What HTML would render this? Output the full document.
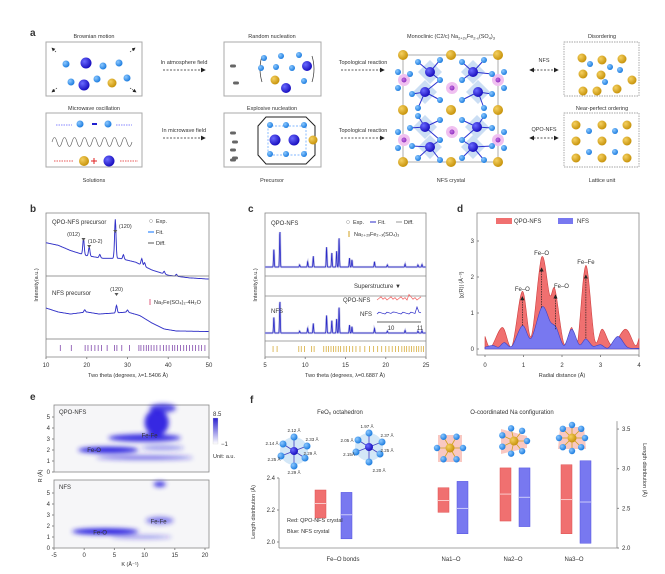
<!DOCTYPE html>
<html><head><meta charset="utf-8"><style>
html,body{margin:0;padding:0;background:#fff;}
svg{display:block;font-family:"Liberation Sans",sans-serif;}
text{fill:#333;}
</style></head><body>
<svg id="fig" width="665" height="574" viewBox="0 0 665 574" xmlns="http://www.w3.org/2000/svg">
<defs>
<radialGradient id="gL" cx="35%" cy="35%" r="65%"><stop offset="0" stop-color="#8cc8ff"/><stop offset="1" stop-color="#1f7ee0"/></radialGradient>
<radialGradient id="gD" cx="35%" cy="35%" r="65%"><stop offset="0" stop-color="#6a6aff"/><stop offset="1" stop-color="#1a10c0"/></radialGradient>
<radialGradient id="gY" cx="35%" cy="35%" r="65%"><stop offset="0" stop-color="#f5d060"/><stop offset="1" stop-color="#c8940c"/></radialGradient>
<radialGradient id="gP" cx="40%" cy="40%" r="60%"><stop offset="0" stop-color="#c070e0"/><stop offset="1" stop-color="#9030c0"/></radialGradient>
<filter id="blur" x="-50%" y="-50%" width="200%" height="200%"><feGaussianBlur stdDeviation="2.5"/></filter>
<marker id="ah" markerWidth="6" markerHeight="6" refX="5" refY="3" orient="auto"><path d="M0,0 L6,3 L0,6 z" fill="#222"/></marker>
<marker id="ahb" markerWidth="6" markerHeight="6" refX="1" refY="3" orient="auto"><path d="M6,0 L0,3 L6,6 z" fill="#222"/></marker>
<linearGradient id="cbar" x1="0" y1="0" x2="0" y2="1"><stop offset="0" stop-color="#2a20d0"/><stop offset="1" stop-color="#ffffff"/></linearGradient>
</defs>
<g id="panelA" font-size="5.5" text-anchor="middle">
<text x="30" y="36" font-size="10" font-weight="bold" fill="#111" text-anchor="start">a</text>
<text x="94" y="38">Brownian motion</text>
<rect x="46" y="42" width="96" height="54" fill="#fff" stroke="#aaa"/>
<text x="94" y="110">Microwave oscillation</text>
<rect x="46" y="113" width="96" height="54" fill="#fff" stroke="#aaa"/>
<text x="94" y="182">Solutions</text>
<text x="272" y="38">Random nucleation</text>
<rect x="224" y="42" width="97" height="54" fill="#fff" stroke="#aaa"/>
<text x="272" y="110">Explosive nucleation</text>
<rect x="224" y="113" width="97" height="54" fill="#fff" stroke="#aaa"/>
<polygon points="266,117 306,117 315,126 315,155 306,164 266,164 258,155 258,126" fill="none" stroke="#222" stroke-width="1"/>
<rect x="268" y="126" width="38" height="29" fill="none" stroke="#5aa0ff" stroke-dasharray="2,1.5" stroke-width="0.7"/>
<text x="272" y="182">Precursor</text>
<text x="184" y="64">In atmosphere field</text>
<line x1="163" y1="70" x2="205" y2="70" stroke="#222" stroke-width="0.8" stroke-dasharray="2,1.5" marker-end="url(#ah)"/>
<text x="184" y="132">In microwave field</text>
<line x1="163" y1="138" x2="205" y2="138" stroke="#222" stroke-width="0.8" stroke-dasharray="2,1.5" marker-end="url(#ah)"/>
<text x="363" y="64">Topological reaction</text>
<line x1="341" y1="70" x2="384" y2="70" stroke="#222" stroke-width="0.8" stroke-dasharray="2,1.5" marker-end="url(#ah)"/>
<text x="363" y="132">Topological reaction</text>
<line x1="341" y1="138" x2="384" y2="138" stroke="#222" stroke-width="0.8" stroke-dasharray="2,1.5" marker-end="url(#ah)"/>
<text x="451" y="38">Monoclinic (C2/c) Na<tspan font-size="4" dy="1.5">2+2x</tspan><tspan dy="-1.5">Fe</tspan><tspan font-size="4" dy="1.5">2-x</tspan><tspan dy="-1.5">(SO</tspan><tspan font-size="4" dy="1.5">4</tspan><tspan dy="-1.5">)</tspan><tspan font-size="4" dy="1.5">3</tspan></text>
<rect x="403" y="55" width="95" height="107" fill="none" stroke="#999" stroke-width="0.8"/>
<g id="crystal"></g>
<text x="451" y="182">NFS crystal</text>
<text x="544" y="62">NFS</text>
<line x1="530" y1="70" x2="558" y2="70" stroke="#222" stroke-width="0.8" stroke-dasharray="2,1.5" marker-end="url(#ah)" marker-start="url(#ahb)"/>
<text x="544" y="131">QPO-NFS</text>
<line x1="530" y1="138" x2="558" y2="138" stroke="#222" stroke-width="0.8" stroke-dasharray="2,1.5" marker-end="url(#ah)" marker-start="url(#ahb)"/>
<text x="602" y="38">Disordering</text>
<rect x="564" y="42" width="75" height="54" fill="none" stroke="#888" stroke-dasharray="1.5,1" stroke-width="0.7"/>
<text x="602" y="110">Near-perfect ordering</text>
<rect x="564" y="113" width="75" height="54" fill="none" stroke="#888" stroke-dasharray="1.5,1" stroke-width="0.7"/>
<text x="602" y="182">Lattice unit</text>
<g id="spheres"></g>
</g>
<g id="panelB"></g>
<g id="panelC"></g>
<g id="panelD"></g>
<g id="panelE"></g>
<g id="panelF"></g>
</svg>
<script>
// ---------- data ----------
const bQpoBase=[[10,0.62],[13,0.58],[16,0.5],[20,0.42],[24,0.38],[28,0.38],[32,0.32],[36,0.2],[40,0.12],[45,0.08],[50,0.06]];
const bQpoPeaks=[[19.2,0.25],[20.6,0.14],[23.2,0.05],[27.0,0.6],[29,0.07],[33.5,0.1],[34.2,0.06],[39,0.04],[42,0.03]];
const bNfsBase=[[10,0.5],[13,0.42],[16,0.38],[20,0.42],[23,0.38],[27,0.4],[30,0.42],[33,0.35],[36,0.2],[39,0.08],[42,0.04],[50,0.03]];
const bNfsPeaks=[[19.5,0.05],[27.3,0.15],[30,0.04]];
const bTicks=[13.5,16.2,19.6,20.3,21.1,22,22.8,23.6,25,26.8,27.4,28.6,30.5,32.8,33.3,34,34.6,35.2,35.8,36.5,37.2,38,38.8,39.5,40.2,41,41.6,42.3,43,43.8,44.5,45.2,46,46.7,47.5,48.2,49];
const cPeaks=[[6.1,0.5],[6.85,1.0],[9.3,0.06],[10.3,0.15],[11.0,0.3],[12.65,0.55],[13.3,0.4],[13.9,0.45],[14.2,0.82],[15.5,0.25],[15.8,0.2],[18.6,0.15],[20.2,0.06],[22.4,0.08],[24,0.06],[24.5,0.07]];
const cTicks=[6,6.5,9.2,9.5,9.9,10.8,11.1,12.3,12.6,12.9,13.2,13.5,13.8,14.1,14.4,14.8,15.1,15.5,15.9,16.3,16.8,17.4,18,18.5,19,19.5,20,20.4,20.8,21.2,21.6,22,22.3,22.6,22.9,23.2,23.5,23.8,24.1,24.4,24.7];
const dQpo=[[0,0.35],[0.15,0.05],[0.45,0.6],[0.7,0.08],[0.97,1.6],[1.2,0.35],[1.47,2.55],[1.68,1.5],[1.82,1.65],[2.05,0.15],[2.25,0.6],[2.4,0.15],[2.62,2.32],[2.85,0.25],[3.05,0.55],[3.3,0.1],[3.65,0.55],[3.9,0.1],[4.0,0.3]];
const dNfs=[[0,0.05],[0.2,0.1],[0.35,0.05],[0.5,0.18],[0.7,0.08],[0.97,0.65],[1.2,0.3],[1.48,1.17],[1.7,0.75],[1.85,0.6],[2.05,0.1],[2.25,0.55],[2.45,0.12],[2.62,0.28],[2.8,0.08],[3.0,0.12],[3.2,0.03],[3.45,0.35],[3.7,0.05],[4.0,0.02]];
const eQpoBlobs=[[4,2.0,5,0.3,1],[10,1.3,8,0.2,0.6],[13,2.2,3.5,0.25,0.4],[10,3.1,6,0.35,0.9],[12,4.5,2,1.2,0.95],[13,5.8,2.2,0.4,0.8]];
const eNfsBlobs=[[3.5,1.5,5.5,0.3,1],[9.5,1.0,5,0.15,0.5],[12.5,2.5,2.3,0.35,0.55],[12.5,5.8,1,0.25,0.9]];
const fCats=["Fe–O bonds","Na1–O","Na2–O","Na3–O"];
const fRedTop=[2.325,2.76,3.01,3.05];
const fRedBot=[2.15,2.45,2.34,2.18];
const fRedMid=[2.24,2.6,2.68,2.61];
const fBlueTop=[2.31,2.84,3.01,3.10];
const fBlueBot=[2.02,2.18,2.27,2.06];
const fBlueMid=[2.17,2.5,2.64,2.58];

const NS="http://www.w3.org/2000/svg";
function mk(parent,tag,attrs,txt){const e=document.createElementNS(NS,tag);for(const k in attrs)e.setAttribute(k,attrs[k]);if(txt!==undefined)e.textContent=txt;parent.appendChild(e);return e;}
function txt(p,x,y,s,size,anchor,name,extra){const t=mk(p,'text',Object.assign({x:x,y:y,'font-size':size||6,'text-anchor':anchor||'start'},extra||{}),s);


return t;}
function lin(pts,x){for(let i=0;i<pts.length-1;i++){if(x>=pts[i][0]&&x<=pts[i+1][0]){const t=(x-pts[i][0])/(pts[i+1][0]-pts[i][0]);return pts[i][1]+t*(pts[i+1][1]-pts[i][1]);}}return pts[pts.length-1][1];}
function pattern(base,peaks,w,x){let v=base?lin(base,x):0;for(const p of peaks)v+=p[1]*Math.exp(-Math.pow((x-p[0])/w,2));return v;}
function smoothPath(pts){let d='M'+pts[0][0]+','+pts[0][1];for(let i=0;i<pts.length-1;i++){const p0=pts[Math.max(0,i-1)],p1=pts[i],p2=pts[i+1],p3=pts[Math.min(pts.length-1,i+2)];
const c1x=p1[0]+(p2[0]-p0[0])/6,c1y=p1[1]+(p2[1]-p0[1])/6,c2x=p2[0]-(p3[0]-p1[0])/6,c2y=p2[1]-(p3[1]-p1[1])/6;d+=` C${c1x},${c1y} ${c2x},${c2y} ${p2[0]},${p2[1]}`;}return d;}

// ---------- panel a spheres ----------
(function(){
const g=document.getElementById('spheres');
const L='url(#gL)',D='url(#gD)',Y='url(#gY)',P='url(#gP)';
const sp=[[66,64,3.5,L],[86,63,5.5,D],[103,66,3.5,L],[119,63,3.5,L],[71,82,3.5,L],[84,85,5.5,D],[97,79,3.5,L],[112,83,4.5,Y],[127,78,3.5,L],
[80,124,3.5,L],[108,124,3.5,L],[84,161,5,Y],[109,161,5.5,D],
[264,58,3,L],[281,56,3,L],[299,55,3,L],[261,68,3,L],[276,67,3,L],[292,68,3,L],[307,66,5,D],[275,80,4.5,Y],[304,81,3,L],[286,88,5,D],
[270,125,3,L],[286,125,3,L],[304,125,3,L],[275,140,5.5,D],[294,140,5.5,D],[313,140,4.5,Y],[270,154,3,L],[286,154,3,L],[304,154,3,L],
[582,58,4.5,Y],[602,60,4.5,Y],[622,59,4.5,Y],[583,74,4.5,Y],[601,75,4.5,Y],[632,80,4.5,Y],[583,91,4.5,Y],[597,91,4.5,Y],[617,89,4.5,Y],[590,64,3,L],[610,67,3,L],[605,82,3,L],[620,70,3,L],
[576,125,4.5,Y],[602,125,4.5,Y],[627,125,4.5,Y],[576,141,4.5,Y],[602,141,4.5,Y],[627,141,4.5,Y],[576,158,4.5,Y],[602,158,4.5,Y],[627,158,4.5,Y],[589,131,3,L],[615,131,3,L],[589,152,3,L],[615,152,3,L]];
[[233,66],[236,83],[233,133],[235,142],[233,150],[235,158],[233,160]].forEach(p=>mk(g,'rect',{x:p[0]-3,y:p[1]-1.5,width:6,height:3,rx:1.5,fill:'#666'}));
mk(g,'path',{d:'M56,125 L72,125 M116,125 L132,125',stroke:'#6060ff','stroke-width':0.8,'stroke-dasharray':'1.5,1'});
mk(g,'rect',{x:92,y:123,width:5,height:2,fill:'#2020d0'});
mk(g,'path',{d:'M54,161 L73,161 M120,161 L138,161',stroke:'#e02020','stroke-width':0.8,'stroke-dasharray':'1.5,1'});
mk(g,'path',{d:'M94,158 v6 M91,161 h6',stroke:'#e02020','stroke-width':1});
let w='M52,142';for(let i=0;i<16;i++){w+=` q2.5,${i%2?9:-9} 5,0`;}mk(g,'path',{d:w,fill:'none',stroke:'#555','stroke-width':0.6});
mk(g,'path',{d:'M262,56 q-4,13 0,26 M312,56 q4,13 0,26',fill:'none',stroke:'#333','stroke-width':0.7});
[[52,48,56,52],[135,48,130,52],[52,92,57,88],[136,92,130,88]].forEach(a=>mk(g,'line',{x1:a[2],y1:a[3],x2:a[0],y2:a[1],stroke:'#222','stroke-width':0.6,'stroke-dasharray':'1.5,1','marker-end':'url(#ah)'}));
sp.forEach(s=>mk(g,'circle',{cx:s[0],cy:s[1],r:s[2],fill:s[3]}));
const c=document.getElementById('crystal');
const oct=[[430,72],[473,72],[425,92],[478,92],[425,127],[477,127],[430,147],[473,147]];
oct.forEach(o=>mk(c,'polygon',{points:`${o[0]-12},${o[1]} ${o[0]},${o[1]-12} ${o[0]+12},${o[1]} ${o[0]},${o[1]+12}`,fill:'#a8c8ec','fill-opacity':0.6}));
[[404,80],[452,88],[498,80],[404,140],[452,132],[498,140]].forEach(p=>{mk(c,'circle',{cx:p[0],cy:p[1],r:6,fill:'#f0c0f0'});mk(c,'circle',{cx:p[0],cy:p[1],r:2.5,fill:P});});
const ox=[[398,72],[410,74],[398,88],[412,94],[418,62],[440,60],[462,62],[484,60],[492,74],[504,72],[504,88],[492,94],[440,80],[462,80],[440,100],[462,100],[418,108],[484,108],[418,116],[484,116],[440,120],[462,120],[440,140],[462,140],[398,132],[410,128],[398,148],[412,146],[418,158],[440,160],[462,158],[484,160],[492,128],[504,132],[504,148],[492,146]];
oct.forEach(o=>ox.forEach(p=>{if(Math.hypot(p[0]-o[0],p[1]-o[1])<20)mk(c,'line',{x1:o[0],y1:o[1],x2:p[0],y2:p[1],stroke:'#2a30d0','stroke-width':1});}));
ox.forEach(p=>mk(c,'circle',{cx:p[0],cy:p[1],r:3,fill:L}));
oct.forEach(o=>mk(c,'circle',{cx:o[0],cy:o[1],r:5,fill:D}));
[[403,55],[451,55],[498,55],[403,110],[451,110],[498,110],[403,162],[451,162],[498,162]].forEach(p=>mk(c,'circle',{cx:p[0],cy:p[1],r:5,fill:Y}));
})();

// ---------- panel b ----------
(function(){
const g=document.getElementById('panelB');
const X0=46,X1=209,Y0=213,Y1=357;
const xs=v=>X0+(v-10)/(50-10)*(X1-X0);
txt(g,30,212,'b',10,'start','panel-b-label',{'font-weight':'bold',fill:'#111'});
mk(g,'rect',{x:X0,y:Y0,width:X1-X0,height:Y1-Y0,fill:'none',stroke:'#888','stroke-width':0.8});
function curve(base,peaks,yb,scale,color,name){const pts=[];for(let x=10;x<=50;x+=0.1)pts.push([xs(x),yb-scale*pattern(base,peaks,0.25,x)]);
const p=mk(g,'path',{d:'M'+pts.map(q=>q[0].toFixed(1)+','+q[1].toFixed(1)).join(' L'),fill:'none',stroke:color,'stroke-width':0.9});

}
curve(bQpoBase,bQpoPeaks,283,65,'#c8c8e8','qpo-precursor-exp');
curve(bQpoBase,bQpoPeaks,283,65,'#3030c8','qpo-precursor-fit');
mk(g,'line',{x1:X0,x2:X1,y1:276,y2:276,stroke:'#777','stroke-width':0.8});
curve(bNfsBase,bNfsPeaks,333,50,'#c8c8e8','nfs-precursor-exp');
curve(bNfsBase,bNfsPeaks,333,50,'#3030c8','nfs-precursor-fit');
mk(g,'line',{x1:X0,x2:X1,y1:339,y2:339,stroke:'#777','stroke-width':0.8});
bTicks.forEach(t=>{const l=mk(g,'line',{x1:xs(t),x2:xs(t),y1:345,y2:351,stroke:'#7030a0','stroke-width':0.7});

});
[10,20,30,40,50].forEach(v=>{mk(g,'line',{x1:xs(v),x2:xs(v),y1:Y1,y2:Y1+2,stroke:'#888'});txt(g,xs(v),367,String(v),6,'middle','b-x-tick');});
txt(g,128,377,'Two theta (degrees, λ=1.5406 Å)',5.5,'middle','b-x-axis-title');
txt(g,38,285,'Intensity(a.u.)',5.5,'middle','b-y-axis-title',{transform:'rotate(-90 38 285)'});
txt(g,52,224,'QPO-NFS precursor',6,'start','b-qpo-label');
txt(g,52,295,'NFS precursor',6,'start','b-nfs-label');
mk(g,'circle',{cx:151,cy:221,r:1.5,fill:'none',stroke:'#999','stroke-width':0.5});txt(g,156,223,'Exp.',5.5,'start','b-legend-exp');
mk(g,'line',{x1:148,x2:154,y1:232,y2:232,stroke:'#5aa0ff','stroke-width':1.5});txt(g,156,234,'Fit.',5.5,'start','b-legend-fit');
mk(g,'line',{x1:148,x2:154,y1:243,y2:243,stroke:'#555','stroke-width':1});txt(g,156,245,'Diff.',5.5,'start','b-legend-diff');
mk(g,'line',{x1:150,x2:150,y1:299,y2:305,stroke:'#e06080','stroke-width':1});txt(g,154,304,'Na₂Fe(SO₄)₂·4H₂O',5.5,'start','b-legend-ref');
[[xs(19.2),241,'(012)',-10],[xs(20.6),248,'(10-2)',6],[xs(27),233,'(120)',10],[xs(27.3),296,'(120)',0]].forEach(a=>{mk(g,'path',{d:`M${a[0]-2},${a[1]-3} h4 l-2,3 z`,fill:'#555'});txt(g,a[0]+a[3],a[1]-5,a[2],5.5,'middle','peak-label');});
})();

// ---------- panel c ----------
(function(){
const g=document.getElementById('panelC');
const X0=265,X1=426,Y0=213,Y1=357;
const xs=v=>X0+(v-5)/(25-5)*(X1-X0);
txt(g,248,212,'c',10,'start','panel-c-label',{'font-weight':'bold',fill:'#111'});
mk(g,'rect',{x:X0,y:Y0,width:X1-X0,height:Y1-Y0,fill:'none',stroke:'#888','stroke-width':0.8});
mk(g,'line',{x1:X0,x2:X1,y1:296,y2:296,stroke:'#888','stroke-width':0.8});
function curve(yb,scale,name){const pts=[];for(let x=5;x<=25;x+=0.03)pts.push([xs(x),yb-scale*pattern(null,cPeaks,0.06,x)]);
mk(g,'path',{d:'M'+pts.map(q=>q[0].toFixed(1)+','+q[1].toFixed(1)).join(' L'),fill:'none',stroke:'#c8c8e8','stroke-width':2.2});
const p=mk(g,'path',{d:'M'+pts.map(q=>q[0].toFixed(1)+','+q[1].toFixed(1)).join(' L'),fill:'none',stroke:'#2a2ac8','stroke-width':0.8});

}
curve(267,36,'qpo-nfs-fit');
mk(g,'line',{x1:X0,x2:X1,y1:276,y2:276,stroke:'#888','stroke-width':0.8});
curve(333,32,'nfs-fit');
mk(g,'line',{x1:X0,x2:X1,y1:341,y2:341,stroke:'#888','stroke-width':0.8});
cTicks.forEach(t=>{const l=mk(g,'line',{x1:xs(t),x2:xs(t),y1:346,y2:352,stroke:'#d0a020','stroke-width':0.7});

});
[5,10,15,20,25].forEach(v=>{mk(g,'line',{x1:xs(v),x2:xs(v),y1:Y1,y2:Y1+2,stroke:'#888'});txt(g,xs(v),367,String(v),6,'middle','c-x-tick');});
txt(g,345,377,'Two theta (degrees, λ=0.6887 Å)',5.5,'middle','c-x-axis-title');
txt(g,257,285,'Intensity(a.u.)',5.5,'middle','c-y-axis-title',{transform:'rotate(-90 257 285)'});
txt(g,271,225,'QPO-NFS',6,'start','c-qpo-label');txt(g,271,313,'NFS',6,'start','c-nfs-label');
mk(g,'circle',{cx:348,cy:222,r:1.5,fill:'none',stroke:'#999','stroke-width':0.5});txt(g,353,224,'Exp.',5.5,'start','c-legend-exp');
mk(g,'line',{x1:370,x2:376,y1:222,y2:222,stroke:'#2a2ac8','stroke-width':1});txt(g,378,224,'Fit.',5.5,'start','c-legend-fit');
mk(g,'line',{x1:396,x2:402,y1:222,y2:222,stroke:'#999','stroke-width':1});txt(g,404,224,'Diff.',5.5,'start','c-legend-diff');
mk(g,'line',{x1:349,x2:349,y1:231,y2:237,stroke:'#d0a020','stroke-width':1});txt(g,354,236,'Na₂₊₂ₓFe₂₋ₓ(SO₄)₃',5.5,'start','c-legend-ref');
txt(g,354,288,'Superstructure ▼',6,'start','superstructure-label');
txt(g,343,302,'QPO-NFS',6,'start','inset-qpo-label');txt(g,360,316,'NFS',6,'start','inset-nfs-label');
let r='M377,300',b='M377,314';for(let i=1;i<=22;i++){const x=377+i*2;r+=` L${x},${300-((i*7)%5)*0.8-(i==16?4:0)}`;b+=` L${x},${314-((i*3)%4)*0.6-(i==20?7:0)-(i==8?2:0)}`;}
mk(g,'path',{d:r,fill:'none',stroke:'#f06060','stroke-width':0.7});mk(g,'path',{d:b,fill:'none',stroke:'#2a2ac8','stroke-width':0.7});
mk(g,'line',{x1:377,x2:421,y1:322,y2:322,stroke:'#999','stroke-width':1.5});
txt(g,391,330,'10',6,'middle','inset-tick');txt(g,420,330,'11',6,'middle','inset-tick');
})();

// ---------- panel d ----------
(function(){
const g=document.getElementById('panelD');
const X0=485,X1=639,Y0=213,Y1=355;
const xs=v=>X0+v/4*(X1-X0), ys=v=>349-v*36;
txt(g,457,212,'d',10,'start','panel-d-label',{'font-weight':'bold',fill:'#111'});
mk(g,'rect',{x:477,y:Y0,width:X1-477,height:Y1-Y0,fill:'none',stroke:'#888','stroke-width':0.8});
function area(data,fill,stroke,name){const pts=data.map(p=>[xs(p[0]),ys(p[1])]);
const p=mk(g,'path',{d:smoothPath(pts)+` L${xs(4)},${ys(0)} L${xs(0)},${ys(0)} Z`,fill:fill,stroke:stroke,'stroke-width':0.6});

}
area(dQpo,'#f07070','#d04040','qpo-nfs-area');
area(dNfs,'#7878f0','#4040c0','nfs-area');
[0,1,2,3].forEach(v=>{mk(g,'line',{x1:477,x2:479,y1:ys(v),y2:ys(v),stroke:'#888'});txt(g,474,ys(v)+2,String(v),6,'end','d-y-tick');});
[0,1,2,3,4].forEach(v=>{mk(g,'line',{x1:xs(v),x2:xs(v),y1:Y1,y2:Y1+2,stroke:'#888'});txt(g,xs(v),367,String(v),6,'middle','d-x-tick');});
txt(g,562,377,'Radial distance (Å)',5.5,'middle','d-x-axis-title');
txt(g,463,285,'|χ(R)| (Å⁻³)',5.5,'middle','d-y-axis-title',{transform:'rotate(-90 463 285)'});
mk(g,'rect',{x:496,y:218,width:16,height:6,fill:'#f07070'});txt(g,514,223,'QPO-NFS',6,'start','d-legend-qpo');
mk(g,'rect',{x:558,y:218,width:15,height:6,fill:'#7878f0'});txt(g,577,223,'NFS',6,'start','d-legend-nfs');
[[0.97,0.65,1.45,'Fe–O',0,291],[1.47,1.15,2.25,'Fe–O',0,255],[1.83,0.55,1.5,'Fe–O',6,288],[2.62,0.3,2.05,'Fe–Fe',0,264]].forEach(a=>{mk(g,'line',{x1:xs(a[0]),x2:xs(a[0]),y1:ys(a[1]),y2:ys(a[2]),stroke:'#222','stroke-width':0.7,'stroke-dasharray':'1.5,1','marker-end':'url(#ah)'});
txt(g,xs(a[0])+a[4],a[5],a[3],6,'middle','d-peak-label');});
})();

// ---------- panel e ----------
(function(){
const g=document.getElementById('panelE');
txt(g,30,400,'e',10,'start','panel-e-label',{'font-weight':'bold',fill:'#111'});
const X0=54,X1=205;const xs=v=>X0+(v+5)/25*(X1-X0);
function plot(top,bottom,blobs,label,name){const ys=v=>bottom-v*11;
mk(g,'rect',{x:X0,y:top,width:X1-X0+4,height:bottom-top,fill:'#f6f6f8',stroke:'#888','stroke-width':0.8});
const gg=mk(g,'g',{filter:'url(#blur)'});


blobs.forEach(b=>{const e=mk(gg,'ellipse',{cx:xs(b[0]),cy:ys(b[1]),rx:(b[2])*6.04,ry:b[3]*11,fill:'#2a20e0','fill-opacity':b[4]});

});
[0,1,2,3,4,5].forEach(v=>{mk(g,'line',{x1:X0-2,x2:X0,y1:ys(v),y2:ys(v),stroke:'#888'});txt(g,X0-4,ys(v)+2,String(v),6,'end','e-y-tick');});
txt(g,X0+5,top+9,label,6,'start','e-plot-label');return ys;}
const ysA=plot(405,472,eQpoBlobs,'QPO-NFS','qpo-nfs-heatmap');
const ysB=plot(480,548,eNfsBlobs,'NFS','nfs-heatmap');
txt(g,xs(0.5),ysA(2)+2,'Fe-O',6,'start','e-label',{fill:'#fff'});txt(g,xs(9.5),ysA(3.3)+2,'Fe-Fe',6,'start','e-label',{fill:'#fff'});
txt(g,xs(1.5),ysB(1.4)+2,'Fe-O',6,'start','e-label',{fill:'#fff'});txt(g,xs(11),ysB(2.4)+2,'Fe-Fe',6,'start','e-label',{fill:'#fff'});
[-5,0,5,10,15,20].forEach(v=>{mk(g,'line',{x1:xs(v),x2:xs(v),y1:548,y2:550,stroke:'#888'});txt(g,xs(v),557,String(v),6,'middle','e-x-tick');});
txt(g,130,566,'K (Å⁻¹)',5.5,'middle','e-x-axis-title');
txt(g,42,476,'R (Å)',5.5,'middle','e-y-axis-title',{transform:'rotate(-90 42 476)'});
mk(g,'rect',{x:213,y:418,width:5,height:26,fill:'url(#cbar)',stroke:'#ccc','stroke-width':0.3});
txt(g,213,416,'8.5',6,'start','colorbar-max');txt(g,221,446,'−1',6,'start','colorbar-min');txt(g,213,458,'Unit: a.u.',5.5,'start','colorbar-unit');
})();

// ---------- panel f ----------
(function(){
const g=document.getElementById('panelF');
txt(g,250,403,'f',10,'start','panel-f-label',{'font-weight':'bold',fill:'#111'});
const XL=279,XR=617;
const yl=v=>542-(v-2.0)*160, yr=v=>548-(v-2.0)*79.3;
const xcat=[343,451,513,574];
const off=[-22,-7,-7,-7],offB=[26,19,19,19];
mk(g,'line',{x1:XL,x2:XL,y1:yl(2.4),y2:548,stroke:'#888','stroke-width':0.8});
mk(g,'line',{x1:XL,x2:XR,y1:548,y2:548,stroke:'#888','stroke-width':0.8});
mk(g,'line',{x1:XR,x2:XR,y1:yr(3.6),y2:548,stroke:'#888','stroke-width':0.8});
[2.0,2.2,2.4].forEach(v=>{mk(g,'line',{x1:XL-2,x2:XL,y1:yl(v),y2:yl(v),stroke:'#888'});txt(g,XL-4,yl(v)+2,v.toFixed(1),6,'end','f-left-tick');});
[2.0,2.5,3.0,3.5].forEach(v=>{mk(g,'line',{x1:XR,x2:XR+2,y1:yr(v),y2:yr(v),stroke:'#888'});txt(g,XR+5,yr(v)+2,v.toFixed(1),6,'start','f-right-tick');});
txt(g,255,512,'Length distribution (Å)',5.5,'middle','f-left-axis-title',{transform:'rotate(-90 255 512)'});
txt(g,643,470,'Length distribution (Å)',5.5,'middle','f-right-axis-title',{transform:'rotate(90 643 470)'});
fCats.forEach((c,i)=>{const y=i==0?yl:yr;const xr=xcat[i]+off[i]-6,xb=xcat[i]+off[i]-6+offB[i];
let r=mk(g,'rect',{x:xr,y:y(fRedTop[i]),width:11,height:y(fRedBot[i])-y(fRedTop[i]),fill:'#f07070',stroke:'#e05050','stroke-width':0.5});


mk(g,'line',{x1:xr,x2:xr+11,y1:y(fRedMid[i]),y2:y(fRedMid[i]),stroke:'#fde0e0','stroke-width':0.8});
let b=mk(g,'rect',{x:xb,y:y(fBlueTop[i]),width:11,height:y(fBlueBot[i])-y(fBlueTop[i]),fill:'#7878f0',stroke:'#5050e0','stroke-width':0.5});


mk(g,'line',{x1:xb,x2:xb+11,y1:y(fBlueMid[i]),y2:y(fBlueMid[i]),stroke:'#e0e0fd','stroke-width':0.8});
txt(g,xcat[i],561,c,6,'middle','f-category-label');});
txt(g,287,522,'Red: QPO-NFS crystal',5.5,'start','f-note-red');txt(g,287,533,'Blue: NFS crystal',5.5,'start','f-note-blue');
txt(g,340,414,'FeO₆ octahedron',6,'middle','f-feo6-title');txt(g,512,414,'O-coordinated Na configuration',6,'middle','f-na-title');
function oct(cx,cy,labels){mk(g,'circle',{cx:cx,cy:cy,r:14,fill:'#a8d0f0','fill-opacity':0.5});
const pts=[[0,-14],[13,-5],[11,7],[0,15],[-13,5],[-11,-7]];pts.forEach(p=>{mk(g,'line',{x1:cx,y1:cy,x2:cx+p[0],y2:cy+p[1],stroke:'#4040c0','stroke-width':0.8});mk(g,'circle',{cx:cx+p[0],cy:cy+p[1],r:3.5,fill:'url(#gL)'});});
mk(g,'circle',{cx:cx,cy:cy,r:4,fill:'url(#gD)'});
labels.forEach(l=>txt(g,cx+l[0],cy+l[1],l[2],4.5,'middle','bond-length-label'));}
oct(294,451,[[0,-19,'2.12 Å'],[18,-10,'2.33 Å'],[-22,-6,'2.14 Å'],[16,4,'2.29 Å'],[-20,10,'2.25 Å'],[0,23,'2.29 Å']]);
oct(369,447,[[-2,-19,'1.97 Å'],[18,-10,'2.37 Å'],[-22,-5,'2.05 Å'],[18,5,'2.25 Å'],[-20,9,'2.15Å'],[10,25,'2.20 Å']]);
function na(cx,cy,n,shape){mk(g,'polygon',{points:shape,fill:'#f6b0a8','fill-opacity':0.7});
for(let k=0;k<n;k++){const a=k/n*6.283;const px=cx+13*Math.cos(a),py=cy+13*Math.sin(a);mk(g,'line',{x1:cx,y1:cy,x2:px,y2:py,stroke:'#d0a020','stroke-width':0.8});mk(g,'circle',{cx:px,cy:py,r:3.2,fill:'url(#gL)'});}
mk(g,'circle',{cx:cx,cy:cy,r:4.5,fill:'url(#gY)'});}
na(450,448,6,'438,435 462,435 462,462 438,462');
na(514,441,7,'501,429 527,436 527,448 501,454');
na(572,438,8,'560,427 584,427 586,449 558,449');
})();
</script>
</body></html>
